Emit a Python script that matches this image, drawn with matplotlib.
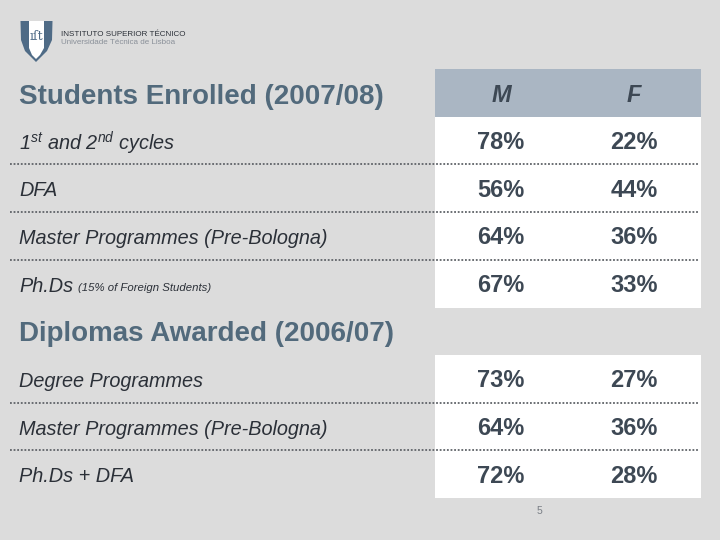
import matplotlib
matplotlib.use("Agg")
import matplotlib.pyplot as plt
from matplotlib.patches import Rectangle, Polygon

plt.rcParams['font.family'] = ['Liberation Sans', 'DejaVu Sans']
plt.rcParams['mathtext.fontset'] = 'custom'
plt.rcParams['mathtext.rm'] = 'Liberation Sans'
plt.rcParams['mathtext.it'] = 'Liberation Sans:italic'

# ---- data ----
columns = ["M", "F"]
section1_title = "Students Enrolled (2007/08)"
section1_rows = [r"1$^{\mathit{st}}$ and 2$^{\mathit{nd}}$ cycles", "DFA",
                 "Master Programmes (Pre-Bologna)", "Ph.Ds"]
section1_notes = ["", "", "", "(15% of Foreign Students)"]
section1_m = [78, 56, 64, 67]
section1_f = [22, 44, 36, 33]

section2_title = "Diplomas Awarded (2006/07)"
section2_rows = ["Degree Programmes", "Master Programmes (Pre-Bologna)", "Ph.Ds + DFA"]
section2_m = [73, 64, 72]
section2_f = [27, 36, 28]

institute = "INSTITUTO SUPERIOR TÉCNICO"
university = "Universidade Técnica de Lisboa"
page_number = "5"

# ---- styles ----
BG = "#dcdcdc"
HEAD_BG = "#aab6c3"
TITLE_C = "#526a7c"
LABEL_C = "#2b3038"
VAL_C = "#3d4854"
DOT_C = "#5f6368"

fig = plt.figure(figsize=(7.2, 5.4), dpi=100, facecolor=BG)
ax = fig.add_axes([0, 0, 1, 1])
ax.set_xlim(0, 720)
ax.set_ylim(540, 0)
ax.axis("off")
ax.set_facecolor(BG)

panel_x0, panel_x1 = 435, 701
col_x = [501, 634]
row_h = 47.7
line_x0, line_x1 = 10, 699

# logo
shield = Polygon([(20.5, 21), (52.5, 21), (52, 40), (47, 51), (36, 62), (25, 51), (21, 40)],
                 closed=True, facecolor="#4f6b86", edgecolor="none")
ax.add_patch(shield)
inner = Polygon([(29, 21), (44, 21), (44, 48), (40, 55), (36, 59), (32, 55), (29, 48)],
                closed=True, facecolor="white", edgecolor="none")
ax.add_patch(inner)
ax.text(36.5, 36, "ıſt", fontsize=9, color="#4f6b86", ha="center", va="center",
        family=["DejaVu Serif"])
ax.text(61, 34, institute, fontsize=5.8, color="#2b3038", ha="left", va="center")
ax.text(61, 43, university, fontsize=5.8, color="#8a9099", ha="left", va="center")

def draw_section(top, rows, mvals, fvals, notes=None, header=False):
    y = top
    if header:
        ax.add_patch(Rectangle((panel_x0, y), panel_x1 - panel_x0, row_h,
                               facecolor=HEAD_BG, edgecolor="none"))
        for cx, c in zip(col_x, columns):
            ax.text(cx, y + row_h / 2 + 2.5, c, fontsize=17, style="italic", weight="bold",
                    color=VAL_C, ha="center", va="center")
        y += row_h
    n = len(rows)
    ax.add_patch(Rectangle((panel_x0, y), panel_x1 - panel_x0, n * row_h,
                           facecolor="white", edgecolor="none"))
    for i, (lab, m, f) in enumerate(zip(rows, mvals, fvals)):
        cy = y + i * row_h + row_h / 2
        ax.text(19, cy + 2.5, lab, fontsize=14.3, style="italic", color=LABEL_C,
                ha="left", va="center")
        if notes and notes[i]:
            ax.text(78, cy + 4, notes[i], fontsize=8.2, style="italic", color=LABEL_C,
                    ha="left", va="center")
        ax.text(col_x[0], cy + 2, f"{m}%", fontsize=17, weight="bold", color=VAL_C,
                ha="center", va="center")
        ax.text(col_x[1], cy + 2, f"{f}%", fontsize=17, weight="bold", color=VAL_C,
                ha="center", va="center")
        if i < n - 1:
            ly = y + (i + 1) * row_h
            ax.plot([line_x0, line_x1], [ly, ly], color=DOT_C, lw=1.3,
                    linestyle=(0, (1, 1)), solid_capstyle="butt")
    return y + n * row_h

ax.text(19, 97, section1_title, fontsize=20, weight="bold", color=TITLE_C,
        ha="left", va="center")
draw_section(69, section1_rows, section1_m, section1_f, notes=section1_notes, header=True)

ax.text(19, 334, section2_title, fontsize=20, weight="bold", color=TITLE_C,
        ha="left", va="center")
draw_section(355, section2_rows, section2_m, section2_f)

ax.text(539, 511, page_number, fontsize=7.5, color="#7a7f86", ha="center", va="center")

fig.savefig("out.png", dpi=100, facecolor=BG)
